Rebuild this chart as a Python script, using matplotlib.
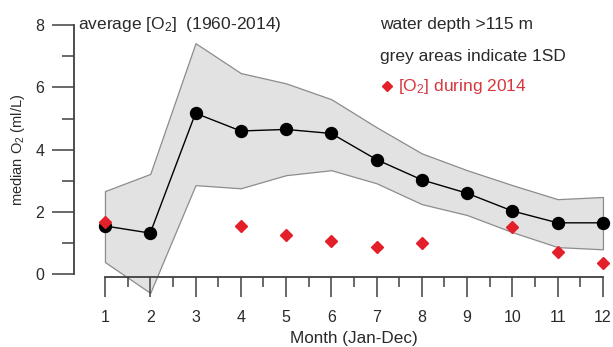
import matplotlib.pyplot as plt
import numpy as np

plt.rcParams['font.family'] = ['Liberation Sans', 'DejaVu Sans']
plt.rcParams['mathtext.fontset'] = 'custom'
plt.rcParams['mathtext.rm'] = 'Liberation Sans'
plt.rcParams['mathtext.it'] = 'Liberation Sans:italic'

# monthly O2 statistics, deep water (>115 m)
months = np.arange(1, 13)
median_o2 = [1.55, 1.32, 5.17, 4.60, 4.65, 4.52, 3.68, 3.03, 2.60, 2.03, 1.65, 1.65]
upper_sd = [2.67, 3.22, 7.42, 6.46, 6.13, 5.62, 4.72, 3.88, 3.34, 2.86, 2.41, 2.48]
lower_sd = [0.39, -0.60, 2.86, 2.76, 3.18, 3.34, 2.92, 2.25, 1.90, 1.35, 0.87, 0.80]

months_2014 = [1, 4, 5, 6, 7, 8, 10, 11, 12]
o2_2014 = [1.68, 1.55, 1.26, 1.07, 0.87, 0.99, 1.52, 0.70, 0.35]

axis_col = '#404040'
txt_col = '#2a2a2a'
red = '#e3202a'

fig = plt.figure(figsize=(6.13, 3.47), dpi=100)
ax = fig.add_axes([74/613, (347-296)/347, 538/613, 274/347])

ax.fill_between(months, lower_sd, upper_sd, facecolor='#e2e2e2',
                edgecolor='#8c8c8c', linewidth=0.9, zorder=1)
ax.plot(months, median_o2, color='black', linewidth=1.0, marker='o',
        markersize=8.6, zorder=3)
ax.plot(months_2014, o2_2014, linestyle='none', marker='D', markersize=6,
        color=red, zorder=4)

ax.set_xlim(0.316, 12.2)
ax.set_ylim(-0.7, 8.1)

for s in ['top', 'right']:
    ax.spines[s].set_visible(False)
ax.spines['left'].set_bounds(0, 8)
ax.spines['bottom'].set_bounds(1, 12)
ax.spines['bottom'].set_position(('data', -0.1))
for s in ['left', 'bottom']:
    ax.spines[s].set_color(axis_col)
    ax.spines[s].set_linewidth(1.3)

ax.set_xticks(months)
ax.set_xticks(np.arange(1.5, 12, 1), minor=True)
ax.set_yticks([0, 2, 4, 6, 8])
ax.set_yticks([1, 3, 5, 7], minor=True)
ax.tick_params(axis='x', which='major', direction='out', length=14.5, width=1.1,
               color=axis_col, labelsize=11.5, labelcolor=txt_col, pad=9)
ax.tick_params(axis='x', which='minor', direction='out', length=7.5, width=1.1,
               color=axis_col)
ax.tick_params(axis='y', which='major', direction='out', length=15.5, width=1.1,
               color=axis_col, labelsize=11.5, labelcolor=txt_col, pad=6)
ax.tick_params(axis='y', which='minor', direction='out', length=8.5, width=1.1,
               color=axis_col)

fig.text(354/613, 1 - 338/347, 'Month (Jan-Dec)', fontsize=12.3,
         color=txt_col, ha='center', va='center')
fig.text(18/613, 1 - 150/347, r'median O$_2$ (ml/L)', rotation=90, fontsize=10.5,
         color=txt_col, ha='center', va='center')

fig.text(78/613, 1 - 25/347, r'average [O$_2$]  (1960-2014)', fontsize=12.5,
         color=txt_col, ha='left', va='center')
fig.text(380/613, 1 - 25/347, 'water depth >115 m', fontsize=12.5,
         color=txt_col, ha='left', va='center')
fig.text(380/613, 1 - 57/347, 'grey areas indicate 1SD', fontsize=12.5,
         color=txt_col, ha='left', va='center')
fig.lines.append(plt.Line2D([387/613], [1 - 86/347], marker='D', markersize=5,
                            color=red, transform=fig.transFigure))
fig.text(398/613, 1 - 86/347, r'[O$_2$] during 2014', fontsize=12.5,
         color='#d8363e', ha='left', va='center')

fig.savefig('out.png', dpi=100)
